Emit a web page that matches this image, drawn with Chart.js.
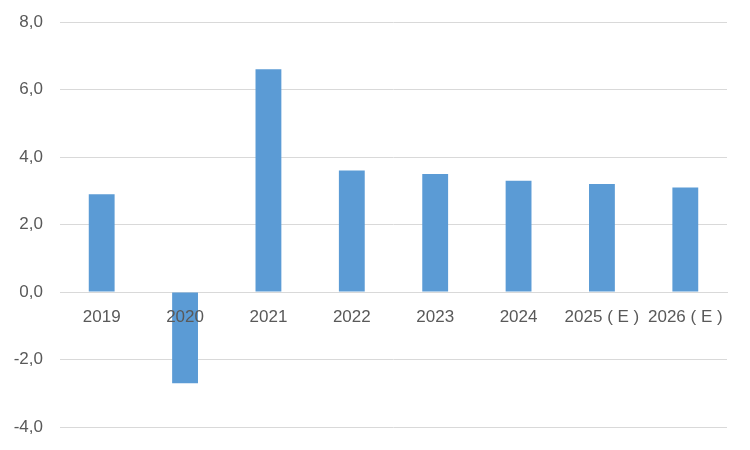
<!DOCTYPE html>
<html>
<head>
<meta charset="utf-8">
<script src="https://cdn.jsdelivr.net/npm/chart.js@4/dist/chart.umd.min.js"></script>
<style>
  html, body { margin: 0; padding: 0; background: #fff; }
  #wrap { width: 750px; height: 450px; }
</style>
</head>
<body>
<div id="wrap"><canvas id="growth"></canvas></div>
<script>
var years = ['2019', '2020', '2021', '2022', '2023', '2024', '2025 ( E )', '2026 ( E )'];
var growth = [2.9, -2.7, 6.6, 3.6, 3.5, 3.3, 3.2, 3.1];
var yMin = -4;
var yMax = 8;
var yStep = 2;

var ctx = document.getElementById('growth').getContext('2d');
var chart = new Chart(ctx, {
    type: 'bar',
    data: {
        labels: years,
        datasets: [{
            data: growth,
            backgroundColor: '#5B9BD5',
            borderWidth: 0,
            barPercentage: 0.31,
            categoryPercentage: 1
        }]
    },
    options: {
        responsive: true,
        maintainAspectRatio: false,
        animation: false,
        layout: {
            padding: { top: 22, right: 23, bottom: 23, left: 0 }
        },
        plugins: {
            legend: { display: false },
            tooltip: { enabled: false }
        },
        scales: {
            x: {
                position: { y: 0 },
                offset: true,
                grid: { display: false, drawTicks: false },
                border: { display: true, color: '#d9d9d9', width: 1 },
                ticks: {
                    z: 1, // labels sit on top of the negative bar
                    color: '#595959',
                    padding: 15,
                    maxRotation: 0,
                    autoSkip: false,
                    font: { family: 'Liberation Sans', size: 17 }
                }
            },
            y: {
                min: yMin,
                max: yMax,
                grid: { color: '#d9d9d9', lineWidth: 1, drawTicks: false },
                border: { display: false },
                afterFit: function (scale) {
                    scale.width = 60;
                    scale.paddingTop = 10;
                    scale.paddingBottom = 10;
                },
                ticks: {
                    stepSize: yStep,
                    color: '#595959',
                    padding: 17,
                    font: { family: 'Liberation Sans', size: 17 },
                    callback: function (v) { return v.toFixed(1).replace('.', ','); }
                }
            }
        }
    }
});
</script>
</body>
</html>
